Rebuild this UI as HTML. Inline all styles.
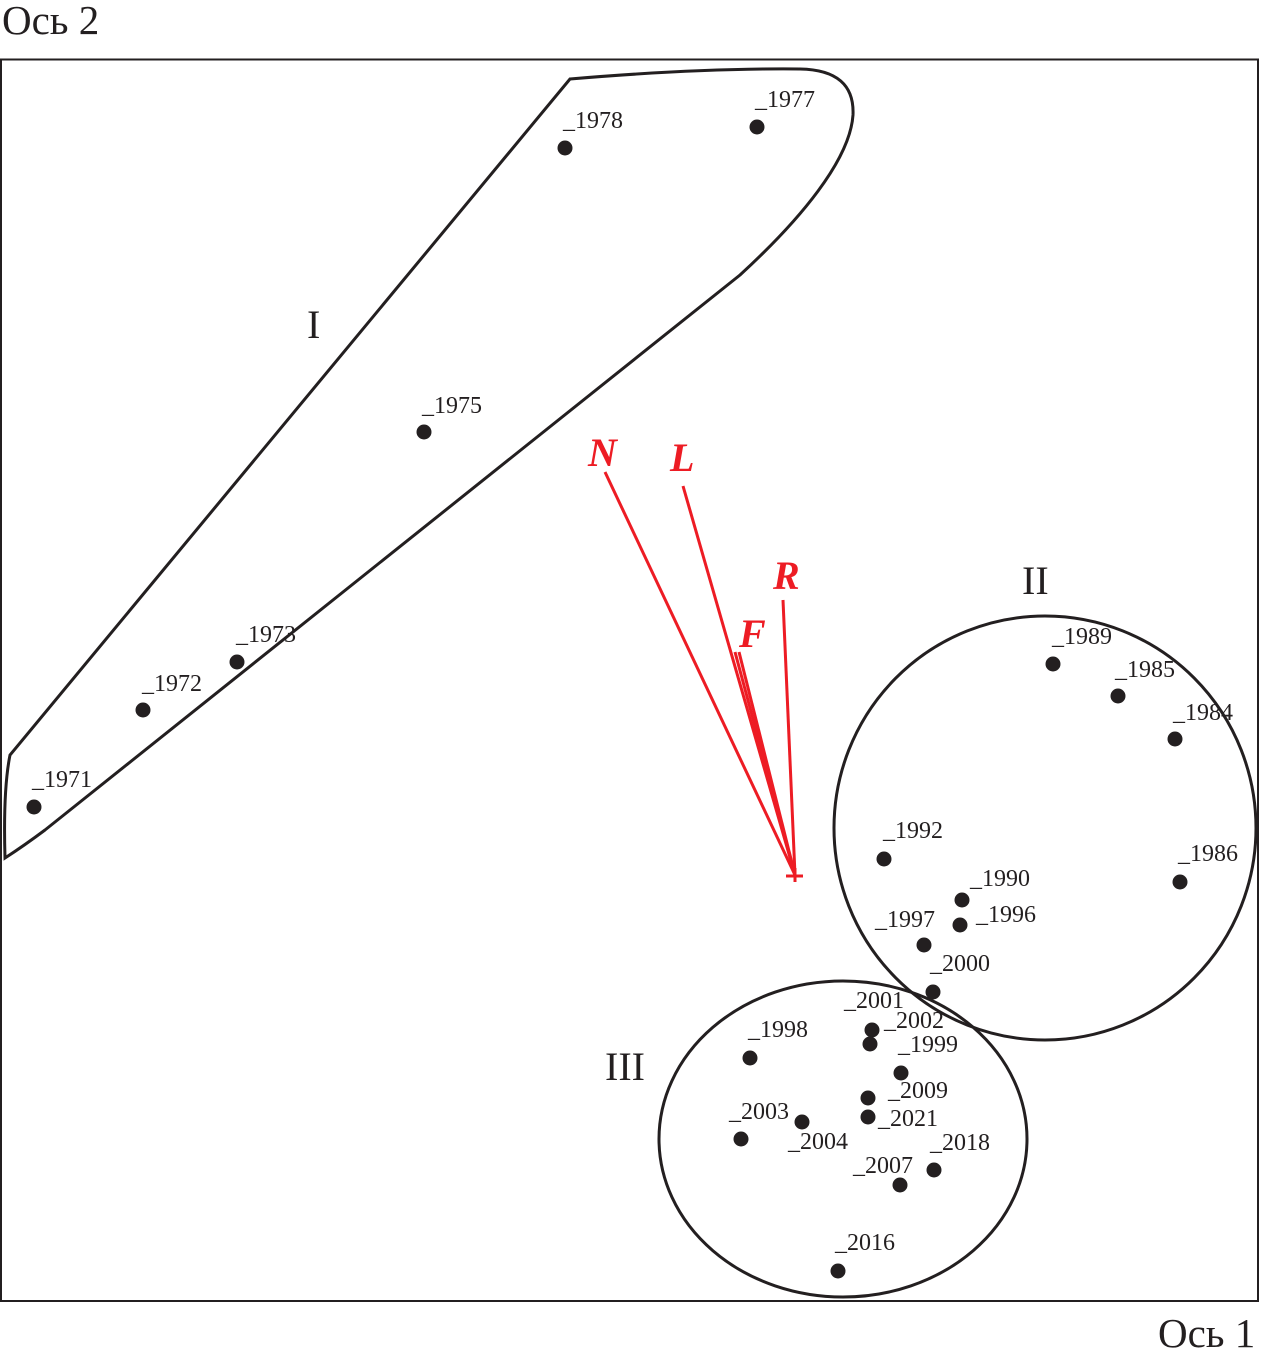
<!DOCTYPE html>
<html><head><meta charset="utf-8"><style>
body{margin:0;background:#fff}
svg text{font-family:"Liberation Serif",serif}
</style></head><body>
<svg width="1261" height="1360" viewBox="0 0 1261 1360" xmlns="http://www.w3.org/2000/svg">
<rect x="1" y="59.5" width="1257" height="1241.5" fill="none" stroke="#231f20" stroke-width="2"/>
<text x="2" y="34" font-size="41" fill="#231f20">Ось 2</text>
<text x="1158" y="1347" font-size="41" fill="#231f20">Ось 1</text>
<path d="M570,79 L10,755 Q3,790 5,858 Q25,845 45,830 L740,275 C800,220 850,160 853,115 Q855,70 800,69 Q700,68 570,79 Z" fill="none" stroke="#231f20" stroke-width="3"/>
<ellipse cx="1045" cy="828" rx="211" ry="212" fill="none" stroke="#231f20" stroke-width="3"/>
<ellipse cx="843" cy="1139" rx="184" ry="158" fill="none" stroke="#231f20" stroke-width="3"/>
<g font-size="40" fill="#231f20">
<text x="307" y="338">I</text><text x="1022" y="594">II</text><text x="605" y="1080">III</text>
</g>
<g stroke="#ed1c24" stroke-width="3" fill="none">
<line x1="795" y1="875" x2="605" y2="472"/>
<line x1="795" y1="875" x2="683" y2="486"/>
<line x1="795" y1="875" x2="783" y2="600"/>
<line x1="795" y1="875" x2="735" y2="652"/>
<line x1="795" y1="875" x2="739" y2="652"/>
<line x1="786" y1="876" x2="803" y2="876"/>
<line x1="795" y1="868" x2="795" y2="882"/>
</g>
<g font-size="40" font-style="italic" fill="#ed1c24" font-weight="bold">
<text x="588" y="466">N</text><text x="670" y="471">L</text><text x="773" y="589">R</text><text x="739" y="647">F</text>
</g>
<g fill="#231f20">
<circle cx="565" cy="148" r="7.5"/><circle cx="757" cy="127" r="7.5"/><circle cx="424" cy="432" r="7.5"/>
<circle cx="237" cy="662" r="7.5"/><circle cx="143" cy="710" r="7.5"/><circle cx="34" cy="807" r="7.5"/>
<circle cx="1053" cy="664" r="7.5"/><circle cx="1118" cy="696" r="7.5"/><circle cx="1175" cy="739" r="7.5"/>
<circle cx="884" cy="859" r="7.5"/><circle cx="1180" cy="882" r="7.5"/><circle cx="962" cy="900" r="7.5"/>
<circle cx="960" cy="925" r="7.5"/><circle cx="924" cy="945" r="7.5"/><circle cx="933" cy="992" r="7.5"/>
<circle cx="872" cy="1030" r="7.5"/><circle cx="870" cy="1044" r="7.5"/><circle cx="750" cy="1058" r="7.5"/>
<circle cx="901" cy="1073" r="7.5"/><circle cx="868" cy="1098" r="7.5"/><circle cx="868" cy="1117" r="7.5"/>
<circle cx="802" cy="1122" r="7.5"/><circle cx="741" cy="1139" r="7.5"/><circle cx="934" cy="1170" r="7.5"/>
<circle cx="900" cy="1185" r="7.5"/><circle cx="838" cy="1271" r="7.5"/>
</g>
<g font-size="24" fill="#231f20">
<text x="563" y="128">_1978</text><text x="755" y="107">_1977</text><text x="422" y="413">_1975</text>
<text x="236" y="642">_1973</text><text x="142" y="691">_1972</text><text x="32" y="787">_1971</text>
<text x="1052" y="644">_1989</text><text x="1115" y="677">_1985</text><text x="1173" y="720">_1984</text>
<text x="883" y="838">_1992</text><text x="1178" y="861">_1986</text><text x="970" y="886">_1990</text>
<text x="976" y="922">_1996</text><text x="875" y="927">_1997</text><text x="930" y="971">_2000</text>
<text x="844" y="1008">_2001</text><text x="884" y="1028">_2002</text><text x="748" y="1037">_1998</text>
<text x="898" y="1052">_1999</text><text x="888" y="1098">_2009</text><text x="878" y="1126">_2021</text>
<text x="729" y="1119">_2003</text><text x="788" y="1149">_2004</text><text x="930" y="1150">_2018</text>
<text x="853" y="1173">_2007</text><text x="835" y="1250">_2016</text>
</g>
</svg>
</body></html>
